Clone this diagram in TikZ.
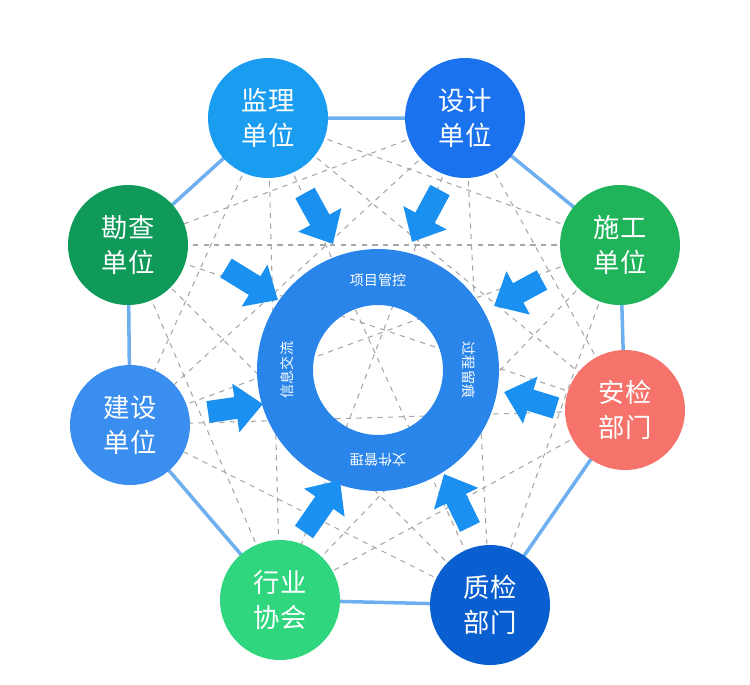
\documentclass[tikz,border=0pt]{standalone}
\usepackage{fontspec}
\setmainfont{Noto Sans CJK SC}
\usetikzlibrary{arrows.meta}
\definecolor{cJL}{HTML}{1A9CF0}
\definecolor{cSJ}{HTML}{1A72EE}
\definecolor{cSG}{HTML}{1FB35A}
\definecolor{cAJ}{HTML}{F5736A}
\definecolor{cZJ}{HTML}{0A5FD0}
\definecolor{cHY}{HTML}{2FD67E}
\definecolor{cJS}{HTML}{3A8EF0}
\definecolor{cKC}{HTML}{109A5A}
\definecolor{ring}{HTML}{2A85EA}
\definecolor{arr}{HTML}{1A90F0}
\tikzset{
  unit/.style={circle,minimum size=2.4cm,inner sep=0pt,text=white,align=center,font=\fontsize{15}{20}\selectfont},
  tag/.style={text=white,font=\fontsize{8}{10}\selectfont},
  push/.style={arr,line width=0.44cm,-{Triangle[width=0.95cm,length=0.55cm]}},
  mesh/.style={gray!70,dashed,line width=0.6pt},
  rim/.style={color={rgb,255:red,110;green,175;blue,240},line width=2pt}
}
\begin{document}
\begin{tikzpicture}[x=0.02cm,y=-0.02cm]
\useasboundingbox (0,0) rectangle (750,684);
\coordinate (c) at (378,370);
% units around the ring
\path (268,118) coordinate (p1) (465,118) coordinate (p2) (620,245) coordinate (p3)
      (625,410) coordinate (p4) (490,605) coordinate (p5) (280,600) coordinate (p6)
      (130,425) coordinate (p7) (128,245) coordinate (p8);
\foreach \i in {1,...,8}
  \foreach \j in {1,...,8}
    {\ifnum\i<\j \draw[mesh] (p\i) -- (p\j);\fi}
\draw[rim] (p1) -- (p2) -- (p3) -- (p4) -- (p5) -- (p6) -- (p7) -- (p8) -- cycle;
\node[unit,fill=cJL] (jl) at (p1) {监理\\单位};
\node[unit,fill=cSJ] (sj) at (p2) {设计\\单位};
\node[unit,fill=cSG] (sg) at (p3) {施工\\单位};
\node[unit,fill=cAJ] (aj) at (p4) {安检\\部门};
\node[unit,fill=cZJ] (zj) at (p5) {质检\\部门};
\node[unit,fill=cHY] (hy) at (p6) {行业\\协会};
\node[unit,fill=cJS] (js) at (p7) {建设\\单位};
\node[unit,fill=cKC] (kc) at (p8) {勘查\\单位};
% ring
\fill[ring,even odd rule] (c) circle[radius=2.42cm] (c) circle[radius=1.3cm];
\node[tag] (t1) at (378,280) {项目管控};
\node[tag,rotate=-90] (t2) at (469,370) {过程留痕};
\node[tag,rotate=180] (t3) at (378,460) {文件管理};
\node[tag,rotate=90] (t4) at (287,370) {信息交流};
% arrows
\path (305,193) coordinate (a1) (333,244) coordinate (b1)
      (440,190) coordinate (a2) (412,242) coordinate (b2)
      (226,268) coordinate (a3) (278,300) coordinate (b3)
      (542,280) coordinate (a4) (494,306) coordinate (b4)
      (208,412) coordinate (a5) (263,404) coordinate (b5)
      (556,408) coordinate (a6) (504,392) coordinate (b6)
      (304,532) coordinate (a7) (340,480) coordinate (b7)
      (470,527) coordinate (a8) (444,474) coordinate (b8);
\foreach \k in {1,...,8}
  \draw[push] (a\k) -- (b\k);
\end{tikzpicture}
\end{document}
